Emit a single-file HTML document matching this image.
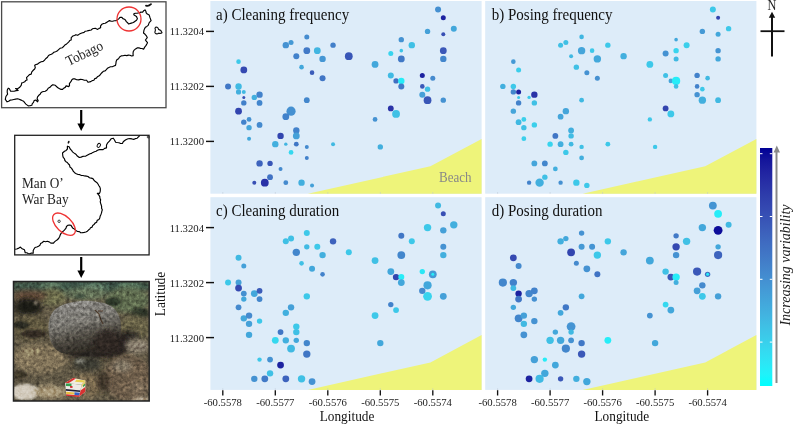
<!DOCTYPE html><html><head><meta charset="utf-8"><style>html,body{margin:0;padding:0;background:#fff;overflow:hidden}svg{display:block;will-change:transform}text{font-family:"Liberation Serif",serif}</style></head><body>
<svg width="793" height="425" viewBox="0 0 793 425">
<defs><linearGradient id="cb" x1="0" y1="0" x2="0" y2="1"><stop offset="0.00" stop-color="#000096"/><stop offset="0.05" stop-color="#14159b"/><stop offset="0.10" stop-color="#2023a1"/><stop offset="0.15" stop-color="#2830a6"/><stop offset="0.20" stop-color="#2e3dab"/><stop offset="0.25" stop-color="#3448b1"/><stop offset="0.30" stop-color="#3854b6"/><stop offset="0.35" stop-color="#3c60bb"/><stop offset="0.40" stop-color="#3f6cc1"/><stop offset="0.45" stop-color="#4177c6"/><stop offset="0.50" stop-color="#4383cb"/><stop offset="0.55" stop-color="#448fd1"/><stop offset="0.60" stop-color="#449bd6"/><stop offset="0.65" stop-color="#43a7db"/><stop offset="0.70" stop-color="#42b3e0"/><stop offset="0.75" stop-color="#3fc0e5"/><stop offset="0.80" stop-color="#3bccea"/><stop offset="0.85" stop-color="#35d9f0"/><stop offset="0.90" stop-color="#2de5f5"/><stop offset="0.95" stop-color="#20f2fa"/><stop offset="1.00" stop-color="#00ffff"/></linearGradient>
<filter id="bl03" x="-5%" y="-5%" width="110%" height="110%"><feGaussianBlur stdDeviation="0.35"/></filter>
<filter id="bl05" x="-50%" y="-50%" width="200%" height="200%"><feGaussianBlur stdDeviation="0.6"/></filter>
<filter id="bl1" x="-50%" y="-50%" width="200%" height="200%"><feGaussianBlur stdDeviation="1.2"/></filter>
<filter id="bl2" x="-50%" y="-50%" width="200%" height="200%"><feGaussianBlur stdDeviation="2.5"/></filter>
<filter id="bl4" x="-50%" y="-50%" width="200%" height="200%"><feGaussianBlur stdDeviation="4"/></filter>
<clipPath id="photoclip"><rect x="13.5" y="281.5" width="135.7" height="119.5"/></clipPath>
<linearGradient id="boulder" x1="0" y1="0" x2="0.3" y2="1"><stop offset="0" stop-color="#8c8a86"/><stop offset="0.45" stop-color="#7a7872"/><stop offset="0.72" stop-color="#4e4a42"/><stop offset="1" stop-color="#2a2620"/></linearGradient>
<filter id="noise" x="0" y="0" width="100%" height="100%" color-interpolation-filters="sRGB"><feTurbulence type="fractalNoise" baseFrequency="0.3" numOctaves="3" seed="11" result="t"/><feColorMatrix in="t" type="matrix" values="0.75 0.75 0.75 0 -0.63  0.75 0.75 0.75 0 -0.63  0.75 0.75 0.75 0 -0.63  0 0 0 0 1"/><feGaussianBlur stdDeviation="0.35"/></filter>
</defs>
<rect x="210.4" y="1.0" width="271.20000000000005" height="192.7" fill="#ddecf9"/>
<polygon fill="#eef47a" points="307.8,193.7 430.4,166.3 481.6,138.9 481.6,193.7"/>
<line x1="222.8" y1="192.2" x2="222.8" y2="193.7" stroke="#b8c2d0" stroke-width="0.6"/>
<line x1="275.3" y1="192.2" x2="275.3" y2="193.7" stroke="#b8c2d0" stroke-width="0.6"/>
<line x1="327.8" y1="192.2" x2="327.8" y2="193.7" stroke="#b8c2d0" stroke-width="0.6"/>
<line x1="380.3" y1="192.2" x2="380.3" y2="193.7" stroke="#b8c2d0" stroke-width="0.6"/>
<line x1="432.8" y1="192.2" x2="432.8" y2="193.7" stroke="#b8c2d0" stroke-width="0.6"/>
<text transform="translate(216.00,20.10) scale(1,1.1)" font-size="15" fill="#111" text-anchor="start">a) Cleaning frequency</text>
<g filter="url(#bl03)">
<circle cx="306.80" cy="36.90" r="2.5" fill="#448ccf"/>
<circle cx="285.80" cy="45.15" r="3.2" fill="#4492d2"/>
<circle cx="291.05" cy="42.40" r="2.5" fill="#4499d5"/>
<circle cx="333.05" cy="45.15" r="2.7" fill="#427fc9"/>
<circle cx="296.30" cy="56.15" r="3.0" fill="#4382cb"/>
<circle cx="306.80" cy="50.65" r="3.4" fill="#427ac7"/>
<circle cx="317.30" cy="50.65" r="3.4" fill="#42b5e1"/>
<circle cx="322.55" cy="58.90" r="3.2" fill="#4496d4"/>
<circle cx="301.55" cy="67.15" r="2.3" fill="#43a7db"/>
<circle cx="312.05" cy="72.65" r="2.3" fill="#3a5bb9"/>
<circle cx="322.55" cy="78.15" r="3.0" fill="#4176c5"/>
<circle cx="238.55" cy="61.65" r="2.3" fill="#3dc9e9"/>
<circle cx="243.80" cy="69.90" r="3.4" fill="#3449b1"/>
<circle cx="228.05" cy="86.40" r="3.0" fill="#4177c6"/>
<circle cx="238.55" cy="86.40" r="3.2" fill="#41bae3"/>
<circle cx="238.55" cy="91.90" r="2.6" fill="#43afde"/>
<circle cx="243.80" cy="91.90" r="2.0" fill="#41b9e2"/>
<circle cx="438.05" cy="9.40" r="3.0" fill="#4490d1"/>
<circle cx="443.30" cy="17.65" r="2.5" fill="#1f23a1"/>
<circle cx="453.80" cy="28.65" r="3.0" fill="#43a7db"/>
<circle cx="427.55" cy="31.40" r="2.7" fill="#44a0d8"/>
<circle cx="443.30" cy="34.15" r="2.0" fill="#3750b4"/>
<circle cx="401.30" cy="39.65" r="2.7" fill="#4492d2"/>
<circle cx="411.80" cy="45.15" r="3.2" fill="#3fc0e5"/>
<circle cx="401.30" cy="50.65" r="1.8" fill="#3ec4e7"/>
<circle cx="390.80" cy="53.40" r="2.5" fill="#38d4ee"/>
<circle cx="401.30" cy="58.90" r="3.4" fill="#4178c6"/>
<circle cx="443.30" cy="50.65" r="3.4" fill="#3a58b8"/>
<circle cx="443.30" cy="58.90" r="3.2" fill="#4386cc"/>
<circle cx="348.80" cy="56.15" r="3.9" fill="#3956b7"/>
<circle cx="375.05" cy="64.40" r="3.4" fill="#43a7db"/>
<circle cx="390.80" cy="75.40" r="3.0" fill="#41bae3"/>
<circle cx="396.05" cy="80.90" r="2.7" fill="#4070c3"/>
<circle cx="401.30" cy="80.90" r="3.2" fill="#26edf8"/>
<circle cx="401.30" cy="86.40" r="3.0" fill="#427ac7"/>
<circle cx="422.30" cy="75.40" r="2.5" fill="#1f23a0"/>
<circle cx="432.80" cy="78.15" r="2.5" fill="#448ace"/>
<circle cx="422.30" cy="86.40" r="2.3" fill="#3a58b8"/>
<circle cx="427.55" cy="89.15" r="2.7" fill="#3fc0e5"/>
<circle cx="422.30" cy="94.65" r="3.0" fill="#44a0d8"/>
<circle cx="427.55" cy="100.15" r="3.9" fill="#3956b7"/>
<circle cx="443.30" cy="100.15" r="2.7" fill="#4492d2"/>
<circle cx="390.80" cy="108.40" r="2.9" fill="#2932a7"/>
<circle cx="396.05" cy="113.90" r="3.9" fill="#3fc0e5"/>
<circle cx="375.05" cy="119.40" r="2.4" fill="#4492d2"/>
<circle cx="380.30" cy="146.90" r="2.7" fill="#43afde"/>
<circle cx="259.55" cy="94.65" r="3.2" fill="#4382cb"/>
<circle cx="243.80" cy="97.40" r="1.5" fill="#3750b4"/>
<circle cx="254.30" cy="97.40" r="2.7" fill="#43afde"/>
<circle cx="243.80" cy="102.90" r="2.7" fill="#4381ca"/>
<circle cx="259.55" cy="102.90" r="2.9" fill="#4386cd"/>
<circle cx="306.80" cy="100.15" r="2.9" fill="#4386cc"/>
<circle cx="238.55" cy="111.15" r="3.4" fill="#3244af"/>
<circle cx="291.05" cy="111.15" r="4.6" fill="#4490d1"/>
<circle cx="285.80" cy="116.65" r="3.4" fill="#4382cb"/>
<circle cx="243.80" cy="122.15" r="2.7" fill="#4382cb"/>
<circle cx="249.05" cy="119.40" r="2.4" fill="#4492d2"/>
<circle cx="249.05" cy="127.65" r="2.7" fill="#44a5da"/>
<circle cx="259.55" cy="124.90" r="2.9" fill="#448ace"/>
<circle cx="249.05" cy="138.65" r="2.0" fill="#43a7db"/>
<circle cx="296.30" cy="130.40" r="3.2" fill="#4382cb"/>
<circle cx="296.30" cy="135.90" r="3.4" fill="#44a0d8"/>
<circle cx="280.55" cy="135.90" r="3.2" fill="#3245af"/>
<circle cx="275.30" cy="144.15" r="3.2" fill="#43afde"/>
<circle cx="285.80" cy="144.15" r="1.7" fill="#42b5e1"/>
<circle cx="296.30" cy="144.15" r="2.4" fill="#4177c6"/>
<circle cx="306.80" cy="146.90" r="2.0" fill="#448ace"/>
<circle cx="291.05" cy="152.40" r="2.4" fill="#36d8ef"/>
<circle cx="306.80" cy="157.90" r="2.0" fill="#4382cb"/>
<circle cx="333.05" cy="144.15" r="2.0" fill="#41b9e2"/>
<circle cx="259.55" cy="163.40" r="3.2" fill="#3d63bd"/>
<circle cx="270.05" cy="163.40" r="2.7" fill="#3956b7"/>
<circle cx="280.55" cy="168.90" r="2.0" fill="#448ace"/>
<circle cx="270.05" cy="177.15" r="2.9" fill="#4072c4"/>
<circle cx="264.80" cy="182.65" r="3.9" fill="#2932a7"/>
<circle cx="254.30" cy="182.65" r="2.0" fill="#3750b4"/>
<circle cx="285.80" cy="182.65" r="2.4" fill="#448ace"/>
<circle cx="301.55" cy="182.65" r="3.2" fill="#43afde"/>
<circle cx="312.05" cy="185.40" r="2.0" fill="#44a0d8"/>
</g>
<text transform="translate(471.50,181.70) scale(1,1.1)" font-size="13" fill="#888" text-anchor="end">Beach</text>
<rect x="485.2" y="1.0" width="271.20000000000005" height="192.7" fill="#ddecf9"/>
<polygon fill="#eef47a" points="582.6,193.7 705.2,166.3 756.4,138.9 756.4,193.7"/>
<line x1="497.6" y1="192.2" x2="497.6" y2="193.7" stroke="#b8c2d0" stroke-width="0.6"/>
<line x1="550.1" y1="192.2" x2="550.1" y2="193.7" stroke="#b8c2d0" stroke-width="0.6"/>
<line x1="602.6" y1="192.2" x2="602.6" y2="193.7" stroke="#b8c2d0" stroke-width="0.6"/>
<line x1="655.1" y1="192.2" x2="655.1" y2="193.7" stroke="#b8c2d0" stroke-width="0.6"/>
<line x1="707.6" y1="192.2" x2="707.6" y2="193.7" stroke="#b8c2d0" stroke-width="0.6"/>
<text transform="translate(491.80,20.10) scale(1,1.1)" font-size="15" fill="#111" text-anchor="start">b) Posing frequency</text>
<g filter="url(#bl03)">
<circle cx="581.60" cy="36.90" r="2.3" fill="#41b6e1"/>
<circle cx="560.60" cy="45.15" r="2.5" fill="#3fc0e5"/>
<circle cx="565.85" cy="42.40" r="2.5" fill="#3fc0e5"/>
<circle cx="607.85" cy="45.15" r="2.7" fill="#3dc8e9"/>
<circle cx="571.10" cy="56.15" r="2.0" fill="#41b9e2"/>
<circle cx="581.60" cy="50.65" r="3.7" fill="#44a5da"/>
<circle cx="592.10" cy="50.65" r="2.3" fill="#3dc8e9"/>
<circle cx="597.35" cy="58.90" r="3.7" fill="#43a8db"/>
<circle cx="576.35" cy="67.15" r="2.7" fill="#3fc0e5"/>
<circle cx="586.85" cy="72.65" r="2.5" fill="#4492d2"/>
<circle cx="597.35" cy="78.15" r="2.5" fill="#4490d1"/>
<circle cx="513.35" cy="61.65" r="2.3" fill="#4499d5"/>
<circle cx="518.60" cy="69.90" r="2.5" fill="#3bceeb"/>
<circle cx="502.85" cy="86.40" r="2.7" fill="#43afde"/>
<circle cx="513.35" cy="86.40" r="2.7" fill="#3dc8e9"/>
<circle cx="513.35" cy="91.90" r="2.7" fill="#4386cc"/>
<circle cx="518.60" cy="91.90" r="2.5" fill="#1f23a0"/>
<circle cx="712.85" cy="9.40" r="3.0" fill="#3dc8e9"/>
<circle cx="718.10" cy="17.65" r="2.0" fill="#3244af"/>
<circle cx="728.60" cy="28.65" r="2.7" fill="#3dc8e9"/>
<circle cx="702.35" cy="31.40" r="2.7" fill="#4499d5"/>
<circle cx="718.10" cy="34.15" r="2.5" fill="#43a7db"/>
<circle cx="676.10" cy="39.65" r="1.8" fill="#43a7db"/>
<circle cx="686.60" cy="45.15" r="3.0" fill="#3acfeb"/>
<circle cx="676.10" cy="50.65" r="2.7" fill="#38d4ee"/>
<circle cx="665.60" cy="53.40" r="3.0" fill="#4492d2"/>
<circle cx="676.10" cy="58.90" r="2.5" fill="#41b9e2"/>
<circle cx="718.10" cy="50.65" r="2.7" fill="#4494d3"/>
<circle cx="718.10" cy="58.90" r="2.7" fill="#43a7db"/>
<circle cx="623.60" cy="56.15" r="3.2" fill="#43afde"/>
<circle cx="649.85" cy="64.40" r="3.4" fill="#3dc8e9"/>
<circle cx="665.60" cy="75.40" r="2.5" fill="#3fc0e5"/>
<circle cx="670.85" cy="80.90" r="2.3" fill="#44a5da"/>
<circle cx="676.10" cy="80.90" r="4.1" fill="#26edf8"/>
<circle cx="676.10" cy="86.40" r="2.3" fill="#3fc0e5"/>
<circle cx="697.10" cy="75.40" r="2.7" fill="#4382cb"/>
<circle cx="707.60" cy="78.15" r="2.3" fill="#41b9e2"/>
<circle cx="697.10" cy="86.40" r="2.3" fill="#4382cb"/>
<circle cx="702.35" cy="89.15" r="2.3" fill="#3dc8e9"/>
<circle cx="697.10" cy="94.65" r="2.7" fill="#4492d2"/>
<circle cx="702.35" cy="100.15" r="3.7" fill="#43afde"/>
<circle cx="718.10" cy="100.15" r="2.9" fill="#41b9e2"/>
<circle cx="665.60" cy="108.40" r="2.9" fill="#3244af"/>
<circle cx="670.85" cy="113.90" r="3.4" fill="#3dc8e9"/>
<circle cx="649.85" cy="119.40" r="2.2" fill="#3dc8e9"/>
<circle cx="655.10" cy="146.90" r="2.2" fill="#3dc8e9"/>
<circle cx="534.35" cy="94.65" r="3.2" fill="#2932a7"/>
<circle cx="518.60" cy="97.40" r="1.5" fill="#3dc8e9"/>
<circle cx="529.10" cy="97.40" r="1.7" fill="#3dc8e9"/>
<circle cx="518.60" cy="102.90" r="2.7" fill="#4382cb"/>
<circle cx="534.35" cy="102.90" r="2.7" fill="#3fc0e5"/>
<circle cx="581.60" cy="100.15" r="2.4" fill="#41b9e2"/>
<circle cx="513.35" cy="111.15" r="2.7" fill="#44a5da"/>
<circle cx="565.85" cy="111.15" r="3.2" fill="#44a5da"/>
<circle cx="560.60" cy="116.65" r="2.9" fill="#44a5da"/>
<circle cx="518.60" cy="122.15" r="2.9" fill="#41b9e2"/>
<circle cx="523.85" cy="119.40" r="2.4" fill="#3acfeb"/>
<circle cx="523.85" cy="127.65" r="2.7" fill="#3fc0e5"/>
<circle cx="534.35" cy="124.90" r="2.7" fill="#3acfeb"/>
<circle cx="523.85" cy="138.65" r="2.4" fill="#3acfeb"/>
<circle cx="571.10" cy="130.40" r="2.9" fill="#43afde"/>
<circle cx="571.10" cy="135.90" r="2.7" fill="#40bce4"/>
<circle cx="555.35" cy="135.90" r="2.9" fill="#4176c5"/>
<circle cx="550.10" cy="144.15" r="2.7" fill="#38d4ee"/>
<circle cx="560.60" cy="144.15" r="2.9" fill="#43afde"/>
<circle cx="571.10" cy="144.15" r="2.4" fill="#41b9e2"/>
<circle cx="581.60" cy="146.90" r="2.2" fill="#3fc0e5"/>
<circle cx="565.85" cy="152.40" r="2.7" fill="#3dc8e9"/>
<circle cx="581.60" cy="157.90" r="2.4" fill="#43afde"/>
<circle cx="607.85" cy="144.15" r="2.4" fill="#3dc8e9"/>
<circle cx="534.35" cy="163.40" r="2.9" fill="#44a5da"/>
<circle cx="544.85" cy="163.40" r="2.9" fill="#4386cc"/>
<circle cx="555.35" cy="168.90" r="2.4" fill="#43afde"/>
<circle cx="544.85" cy="177.15" r="2.7" fill="#3fc0e5"/>
<circle cx="539.60" cy="182.65" r="4.2" fill="#43afde"/>
<circle cx="529.10" cy="182.65" r="2.2" fill="#4382cb"/>
<circle cx="560.60" cy="182.65" r="2.2" fill="#4490d1"/>
<circle cx="576.35" cy="182.65" r="3.2" fill="#3dc8e9"/>
<circle cx="586.85" cy="185.40" r="2.7" fill="#3dc8e9"/>
</g>
<rect x="210.4" y="197.2" width="271.20000000000005" height="192.7" fill="#ddecf9"/>
<polygon fill="#eef47a" points="307.8,389.9 430.4,362.5 481.6,335.1 481.6,389.9"/>
<line x1="222.8" y1="388.4" x2="222.8" y2="389.9" stroke="#b8c2d0" stroke-width="0.6"/>
<line x1="275.3" y1="388.4" x2="275.3" y2="389.9" stroke="#b8c2d0" stroke-width="0.6"/>
<line x1="327.8" y1="388.4" x2="327.8" y2="389.9" stroke="#b8c2d0" stroke-width="0.6"/>
<line x1="380.3" y1="388.4" x2="380.3" y2="389.9" stroke="#b8c2d0" stroke-width="0.6"/>
<line x1="432.8" y1="388.4" x2="432.8" y2="389.9" stroke="#b8c2d0" stroke-width="0.6"/>
<text transform="translate(216.00,216.30) scale(1,1.1)" font-size="15" fill="#111" text-anchor="start">c) Cleaning duration</text>
<g filter="url(#bl03)">
<circle cx="306.80" cy="233.10" r="3.0" fill="#3dc8e9"/>
<circle cx="285.80" cy="241.35" r="3.0" fill="#3fc0e5"/>
<circle cx="291.05" cy="238.60" r="3.0" fill="#3fc0e5"/>
<circle cx="333.05" cy="241.35" r="3.2" fill="#3d62bd"/>
<circle cx="296.30" cy="252.35" r="3.7" fill="#4386cc"/>
<circle cx="306.80" cy="246.85" r="2.7" fill="#41bae3"/>
<circle cx="317.30" cy="246.85" r="3.0" fill="#3dc8e9"/>
<circle cx="322.55" cy="255.10" r="3.2" fill="#43afde"/>
<circle cx="301.55" cy="263.35" r="2.3" fill="#3fc0e5"/>
<circle cx="312.05" cy="268.85" r="3.0" fill="#43a7db"/>
<circle cx="322.55" cy="274.35" r="2.3" fill="#4382cb"/>
<circle cx="238.55" cy="257.85" r="3.0" fill="#41b9e2"/>
<circle cx="243.80" cy="266.10" r="2.5" fill="#44a0d8"/>
<circle cx="228.05" cy="282.60" r="3.0" fill="#3dc8e9"/>
<circle cx="238.55" cy="282.60" r="3.0" fill="#44a0d8"/>
<circle cx="238.55" cy="288.10" r="3.4" fill="#3449b1"/>
<circle cx="438.05" cy="205.60" r="3.0" fill="#41b9e2"/>
<circle cx="443.30" cy="213.85" r="2.5" fill="#3750b4"/>
<circle cx="453.80" cy="224.85" r="3.7" fill="#43afde"/>
<circle cx="427.55" cy="227.60" r="3.7" fill="#3dc8e9"/>
<circle cx="443.30" cy="230.35" r="3.2" fill="#44a0d8"/>
<circle cx="401.30" cy="235.85" r="3.0" fill="#4176c5"/>
<circle cx="411.80" cy="241.35" r="3.0" fill="#3dc8e9"/>
<circle cx="348.80" cy="252.35" r="3.0" fill="#3dc8e9"/>
<circle cx="401.30" cy="255.10" r="3.9" fill="#4386cc"/>
<circle cx="443.30" cy="246.85" r="3.0" fill="#4492d2"/>
<circle cx="443.30" cy="255.10" r="3.2" fill="#43afde"/>
<circle cx="375.05" cy="260.60" r="3.4" fill="#3fc0e5"/>
<circle cx="390.80" cy="271.60" r="3.4" fill="#43a7db"/>
<circle cx="396.05" cy="277.10" r="3.2" fill="#3245af"/>
<circle cx="401.30" cy="277.10" r="3.0" fill="#26edf8"/>
<circle cx="401.30" cy="282.60" r="3.4" fill="#43a7db"/>
<circle cx="422.30" cy="271.60" r="2.7" fill="#2ce7f5"/>
<circle cx="432.80" cy="274.35" r="3.9" fill="#4499d5"/>
<circle cx="432.80" cy="274.35" r="1.5" fill="#27ecf7"/>
<circle cx="427.55" cy="285.35" r="4.1" fill="#43a7db"/>
<circle cx="422.30" cy="290.85" r="3.2" fill="#448ace"/>
<circle cx="427.55" cy="296.35" r="4.4" fill="#38d4ee"/>
<circle cx="443.30" cy="296.35" r="3.4" fill="#44a0d8"/>
<circle cx="390.80" cy="304.60" r="2.7" fill="#4382cb"/>
<circle cx="396.05" cy="310.10" r="2.9" fill="#3dc8e9"/>
<circle cx="375.05" cy="315.60" r="3.4" fill="#3dc8e9"/>
<circle cx="380.30" cy="343.10" r="3.2" fill="#43a7db"/>
<circle cx="243.80" cy="293.60" r="2.9" fill="#4490d1"/>
<circle cx="243.80" cy="299.10" r="2.7" fill="#43a7db"/>
<circle cx="254.30" cy="293.60" r="3.4" fill="#43a7db"/>
<circle cx="259.55" cy="290.85" r="2.9" fill="#3a5bb9"/>
<circle cx="259.55" cy="299.10" r="2.9" fill="#4386cc"/>
<circle cx="306.80" cy="296.35" r="3.2" fill="#3dc8e9"/>
<circle cx="238.55" cy="307.35" r="2.9" fill="#448ace"/>
<circle cx="291.05" cy="307.35" r="3.2" fill="#44a0d8"/>
<circle cx="285.80" cy="312.85" r="3.2" fill="#43afde"/>
<circle cx="243.80" cy="318.35" r="3.2" fill="#43a7db"/>
<circle cx="249.05" cy="315.60" r="3.2" fill="#448ace"/>
<circle cx="249.05" cy="323.85" r="3.2" fill="#44a0d8"/>
<circle cx="259.55" cy="321.10" r="2.7" fill="#3dc8e9"/>
<circle cx="249.05" cy="334.85" r="3.2" fill="#43a7db"/>
<circle cx="296.30" cy="326.60" r="3.2" fill="#3dc8e9"/>
<circle cx="296.30" cy="332.10" r="3.2" fill="#3fc0e5"/>
<circle cx="280.55" cy="332.10" r="2.9" fill="#4176c5"/>
<circle cx="275.30" cy="340.35" r="3.4" fill="#36d8ef"/>
<circle cx="285.80" cy="340.35" r="3.2" fill="#43afde"/>
<circle cx="296.30" cy="340.35" r="2.7" fill="#43a7db"/>
<circle cx="306.80" cy="343.10" r="3.2" fill="#4386cc"/>
<circle cx="291.05" cy="348.60" r="3.9" fill="#41b9e2"/>
<circle cx="306.80" cy="354.10" r="3.7" fill="#4176c5"/>
<circle cx="259.55" cy="359.60" r="2.2" fill="#3dc8e9"/>
<circle cx="270.05" cy="359.60" r="2.9" fill="#4492d2"/>
<circle cx="280.55" cy="365.10" r="3.4" fill="#1f23a0"/>
<circle cx="270.05" cy="373.35" r="3.2" fill="#3fc0e5"/>
<circle cx="264.80" cy="378.85" r="3.4" fill="#427ac7"/>
<circle cx="254.30" cy="378.85" r="3.2" fill="#4492d2"/>
<circle cx="285.80" cy="378.85" r="3.4" fill="#3d63bd"/>
<circle cx="301.55" cy="378.85" r="3.7" fill="#3fc0e5"/>
<circle cx="312.05" cy="381.60" r="3.4" fill="#4492d2"/>
</g>
<rect x="485.2" y="197.2" width="271.20000000000005" height="192.7" fill="#ddecf9"/>
<polygon fill="#eef47a" points="582.6,389.9 705.2,362.5 756.4,335.1 756.4,389.9"/>
<line x1="497.6" y1="388.4" x2="497.6" y2="389.9" stroke="#b8c2d0" stroke-width="0.6"/>
<line x1="550.1" y1="388.4" x2="550.1" y2="389.9" stroke="#b8c2d0" stroke-width="0.6"/>
<line x1="602.6" y1="388.4" x2="602.6" y2="389.9" stroke="#b8c2d0" stroke-width="0.6"/>
<line x1="655.1" y1="388.4" x2="655.1" y2="389.9" stroke="#b8c2d0" stroke-width="0.6"/>
<line x1="707.6" y1="388.4" x2="707.6" y2="389.9" stroke="#b8c2d0" stroke-width="0.6"/>
<text transform="translate(491.80,216.30) scale(1,1.1)" font-size="15" fill="#111" text-anchor="start">d) Posing duration</text>
<g filter="url(#bl03)">
<circle cx="581.60" cy="233.10" r="2.7" fill="#4492d2"/>
<circle cx="560.60" cy="241.35" r="3.2" fill="#43afde"/>
<circle cx="565.85" cy="238.60" r="2.7" fill="#43a7db"/>
<circle cx="607.85" cy="241.35" r="3.2" fill="#3dc8e9"/>
<circle cx="571.10" cy="252.35" r="3.9" fill="#3245af"/>
<circle cx="581.60" cy="246.85" r="3.0" fill="#4499d5"/>
<circle cx="592.10" cy="246.85" r="3.0" fill="#4494d3"/>
<circle cx="597.35" cy="255.10" r="3.7" fill="#3dc8e9"/>
<circle cx="576.35" cy="263.35" r="2.5" fill="#448ace"/>
<circle cx="586.85" cy="268.85" r="3.4" fill="#4492d2"/>
<circle cx="597.35" cy="274.35" r="3.0" fill="#4173c4"/>
<circle cx="513.35" cy="257.85" r="3.4" fill="#3449b1"/>
<circle cx="518.60" cy="266.10" r="3.0" fill="#448ace"/>
<circle cx="502.85" cy="282.60" r="4.1" fill="#4386cc"/>
<circle cx="513.35" cy="282.60" r="3.7" fill="#4382cb"/>
<circle cx="513.35" cy="288.10" r="2.9" fill="#41bae3"/>
<circle cx="712.85" cy="205.60" r="3.9" fill="#4494d3"/>
<circle cx="718.10" cy="213.85" r="3.9" fill="#26edf8"/>
<circle cx="728.60" cy="224.85" r="3.0" fill="#41b9e2"/>
<circle cx="702.35" cy="227.60" r="3.7" fill="#43a7db"/>
<circle cx="718.10" cy="230.35" r="4.4" fill="#11119a"/>
<circle cx="676.10" cy="235.85" r="2.7" fill="#427ac7"/>
<circle cx="686.60" cy="241.35" r="3.7" fill="#3fc0e5"/>
<circle cx="676.10" cy="246.85" r="3.7" fill="#3449b1"/>
<circle cx="676.10" cy="255.10" r="3.2" fill="#4492d2"/>
<circle cx="718.10" cy="246.85" r="2.7" fill="#43a7db"/>
<circle cx="718.10" cy="255.10" r="4.1" fill="#3d63bd"/>
<circle cx="623.60" cy="252.35" r="3.2" fill="#44a5da"/>
<circle cx="649.85" cy="260.60" r="3.9" fill="#43a7db"/>
<circle cx="665.60" cy="271.60" r="3.2" fill="#3fc0e5"/>
<circle cx="670.85" cy="277.10" r="3.4" fill="#3956b7"/>
<circle cx="676.10" cy="277.10" r="3.7" fill="#26edf8"/>
<circle cx="676.10" cy="282.60" r="2.5" fill="#43afde"/>
<circle cx="697.10" cy="271.60" r="4.1" fill="#3a58b8"/>
<circle cx="707.60" cy="274.35" r="2.7" fill="#4070c3"/>
<circle cx="707.60" cy="274.35" r="1.5" fill="#27ecf7"/>
<circle cx="702.35" cy="285.35" r="3.2" fill="#448ace"/>
<circle cx="697.10" cy="290.85" r="3.4" fill="#44a0d8"/>
<circle cx="702.35" cy="296.35" r="3.4" fill="#3dc8e9"/>
<circle cx="718.10" cy="296.35" r="3.2" fill="#44a0d8"/>
<circle cx="665.60" cy="304.60" r="2.9" fill="#36d8ef"/>
<circle cx="670.85" cy="310.10" r="3.4" fill="#43a7db"/>
<circle cx="649.85" cy="315.60" r="2.9" fill="#4492d2"/>
<circle cx="655.10" cy="343.10" r="3.2" fill="#43a7db"/>
<circle cx="518.60" cy="293.60" r="3.2" fill="#1f23a0"/>
<circle cx="518.60" cy="299.10" r="3.4" fill="#4176c5"/>
<circle cx="529.10" cy="293.60" r="3.7" fill="#4386cc"/>
<circle cx="534.35" cy="290.85" r="3.4" fill="#4382cb"/>
<circle cx="534.35" cy="299.10" r="2.7" fill="#4490d1"/>
<circle cx="581.60" cy="296.35" r="2.9" fill="#43a7db"/>
<circle cx="513.35" cy="307.35" r="2.7" fill="#43a7db"/>
<circle cx="565.85" cy="307.35" r="3.2" fill="#4178c6"/>
<circle cx="560.60" cy="312.85" r="2.9" fill="#43a7db"/>
<circle cx="518.60" cy="318.35" r="3.9" fill="#4386cc"/>
<circle cx="523.85" cy="315.60" r="3.2" fill="#44a0d8"/>
<circle cx="523.85" cy="323.85" r="3.2" fill="#41b9e2"/>
<circle cx="534.35" cy="321.10" r="3.2" fill="#4492d2"/>
<circle cx="523.85" cy="334.85" r="3.4" fill="#4492d2"/>
<circle cx="571.10" cy="326.60" r="4.4" fill="#4494d3"/>
<circle cx="571.10" cy="332.10" r="2.7" fill="#41b9e2"/>
<circle cx="555.35" cy="332.10" r="2.7" fill="#43a7db"/>
<circle cx="550.10" cy="340.35" r="3.7" fill="#3fc0e5"/>
<circle cx="560.60" cy="340.35" r="3.7" fill="#43a7db"/>
<circle cx="571.10" cy="340.35" r="2.9" fill="#4492d2"/>
<circle cx="581.60" cy="343.10" r="3.2" fill="#4178c6"/>
<circle cx="565.85" cy="348.60" r="4.1" fill="#4386cc"/>
<circle cx="581.60" cy="354.10" r="3.7" fill="#3a58b8"/>
<circle cx="607.85" cy="340.35" r="3.4" fill="#26edf8"/>
<circle cx="534.35" cy="359.60" r="3.7" fill="#44a0d8"/>
<circle cx="544.85" cy="359.60" r="2.2" fill="#27ecf7"/>
<circle cx="555.35" cy="365.10" r="3.4" fill="#43a7db"/>
<circle cx="544.85" cy="373.35" r="3.7" fill="#43a7db"/>
<circle cx="539.60" cy="378.85" r="4.1" fill="#41bae3"/>
<circle cx="529.10" cy="378.85" r="3.4" fill="#1f23a0"/>
<circle cx="560.60" cy="378.85" r="2.7" fill="#3a58b8"/>
<circle cx="576.35" cy="378.85" r="3.2" fill="#43afde"/>
<circle cx="586.85" cy="381.60" r="3.7" fill="#43a7db"/>
</g>
<line x1="206" y1="31.4" x2="214" y2="31.4" stroke="#111" stroke-width="1.45"/>
<text transform="translate(204.00,35.40) scale(1,1.0)" font-size="10.7" fill="#222" text-anchor="end">11.3204</text>
<line x1="206" y1="86.4" x2="214" y2="86.4" stroke="#111" stroke-width="1.45"/>
<text transform="translate(204.00,90.40) scale(1,1.0)" font-size="10.7" fill="#222" text-anchor="end">11.3202</text>
<line x1="206" y1="141.4" x2="214" y2="141.4" stroke="#111" stroke-width="1.45"/>
<text transform="translate(204.00,145.40) scale(1,1.0)" font-size="10.7" fill="#222" text-anchor="end">11.3200</text>
<line x1="206" y1="227.6" x2="214" y2="227.6" stroke="#111" stroke-width="1.45"/>
<text transform="translate(204.00,231.60) scale(1,1.0)" font-size="10.7" fill="#222" text-anchor="end">11.3204</text>
<line x1="206" y1="282.6" x2="214" y2="282.6" stroke="#111" stroke-width="1.45"/>
<text transform="translate(204.00,286.60) scale(1,1.0)" font-size="10.7" fill="#222" text-anchor="end">11.3202</text>
<line x1="206" y1="337.6" x2="214" y2="337.6" stroke="#111" stroke-width="1.45"/>
<text transform="translate(204.00,341.60) scale(1,1.0)" font-size="10.7" fill="#222" text-anchor="end">11.3200</text>
<line x1="222.8" y1="390.2" x2="222.8" y2="395.5" stroke="#111" stroke-width="1.35"/>
<text transform="translate(222.80,405.60) scale(1,1.0)" font-size="10.7" fill="#222" text-anchor="middle">-60.5578</text>
<line x1="275.3" y1="390.2" x2="275.3" y2="395.5" stroke="#111" stroke-width="1.35"/>
<text transform="translate(275.30,405.60) scale(1,1.0)" font-size="10.7" fill="#222" text-anchor="middle">-60.5577</text>
<line x1="327.8" y1="390.2" x2="327.8" y2="395.5" stroke="#111" stroke-width="1.35"/>
<text transform="translate(327.80,405.60) scale(1,1.0)" font-size="10.7" fill="#222" text-anchor="middle">-60.5576</text>
<line x1="380.3" y1="390.2" x2="380.3" y2="395.5" stroke="#111" stroke-width="1.35"/>
<text transform="translate(380.30,405.60) scale(1,1.0)" font-size="10.7" fill="#222" text-anchor="middle">-60.5575</text>
<line x1="432.8" y1="390.2" x2="432.8" y2="395.5" stroke="#111" stroke-width="1.35"/>
<text transform="translate(432.80,405.60) scale(1,1.0)" font-size="10.7" fill="#222" text-anchor="middle">-60.5574</text>
<text transform="translate(347.00,420.80) scale(1,1.1)" font-size="13.3" fill="#111" text-anchor="middle">Longitude</text>
<line x1="497.6" y1="390.2" x2="497.6" y2="395.5" stroke="#111" stroke-width="1.35"/>
<text transform="translate(497.60,405.60) scale(1,1.0)" font-size="10.7" fill="#222" text-anchor="middle">-60.5578</text>
<line x1="550.1" y1="390.2" x2="550.1" y2="395.5" stroke="#111" stroke-width="1.35"/>
<text transform="translate(550.10,405.60) scale(1,1.0)" font-size="10.7" fill="#222" text-anchor="middle">-60.5577</text>
<line x1="602.6" y1="390.2" x2="602.6" y2="395.5" stroke="#111" stroke-width="1.35"/>
<text transform="translate(602.60,405.60) scale(1,1.0)" font-size="10.7" fill="#222" text-anchor="middle">-60.5576</text>
<line x1="655.1" y1="390.2" x2="655.1" y2="395.5" stroke="#111" stroke-width="1.35"/>
<text transform="translate(655.10,405.60) scale(1,1.0)" font-size="10.7" fill="#222" text-anchor="middle">-60.5575</text>
<line x1="707.6" y1="390.2" x2="707.6" y2="395.5" stroke="#111" stroke-width="1.35"/>
<text transform="translate(707.60,405.60) scale(1,1.0)" font-size="10.7" fill="#222" text-anchor="middle">-60.5574</text>
<text transform="translate(621.80,420.80) scale(1,1.1)" font-size="13.3" fill="#111" text-anchor="middle">Longitude</text>
<text transform="translate(165.20,294.00) rotate(-90) scale(1,1.1)" font-size="13.3" fill="#111" text-anchor="middle">Latitude</text>
<text transform="translate(772.00,9.90) scale(1,1.1)" font-size="12.3" fill="#222" text-anchor="middle">N</text>
<line x1="772" y1="17" x2="772" y2="56.5" stroke="#111" stroke-width="2"/>
<polygon points="772,11.8 768.8,17.8 775.2,17.8" fill="#111"/>
<line x1="760.5" y1="31.2" x2="784.5" y2="31.2" stroke="#111" stroke-width="1.8"/>
<rect x="760" y="148" width="12.3" height="238" fill="url(#cb)"/>
<line x1="760" y1="153.7" x2="762.5" y2="153.7" stroke="#fff" stroke-width="1"/>
<line x1="769.8" y1="153.7" x2="772.3" y2="153.7" stroke="#fff" stroke-width="1"/>
<line x1="760" y1="216.5" x2="762.5" y2="216.5" stroke="#fff" stroke-width="1"/>
<line x1="769.8" y1="216.5" x2="772.3" y2="216.5" stroke="#fff" stroke-width="1"/>
<line x1="760" y1="279.3" x2="762.5" y2="279.3" stroke="#fff" stroke-width="1"/>
<line x1="769.8" y1="279.3" x2="772.3" y2="279.3" stroke="#fff" stroke-width="1"/>
<line x1="760" y1="342.1" x2="762.5" y2="342.1" stroke="#fff" stroke-width="1"/>
<line x1="769.8" y1="342.1" x2="772.3" y2="342.1" stroke="#fff" stroke-width="1"/>
<line x1="776.5" y1="152" x2="776.5" y2="383" stroke="#888" stroke-width="2"/>
<polygon points="776.8,145.6 773.6,152.4 780,152.4" fill="#888"/>
<text transform="translate(789.50,265.00) rotate(-90) scale(1,1.1)" font-size="14" fill="#222" text-anchor="middle" font-style="italic">Increasing variability</text>
<rect x="1.6" y="1.8" width="164.4" height="105.9" fill="#fff" stroke="#4a4a4a" stroke-width="1.3"/>
<polygon fill="none" stroke="#000" stroke-width="1.15" stroke-linejoin="round" points="5.30,99.40 5.90,96.50 7.60,94.10 7.19,92.07 7.30,90.00 8.20,88.20 9.40,88.80 10.60,91.20 12.35,91.24 14.10,91.20 16.13,90.67 18.20,90.40 16.96,89.41 15.60,88.60 17.60,88.80 19.40,87.60 21.20,85.30 21.80,82.90 23.29,82.47 24.70,81.80 25.64,80.55 27.10,80.00 26.50,77.60 28.20,75.90 29.45,74.58 31.20,74.10 31.80,71.80 33.50,70.00 34.67,69.00 35.30,67.60 34.70,65.30 36.06,64.48 37.60,64.10 39.26,62.73 41.20,61.80 43.18,61.34 44.70,60.00 45.94,58.48 47.49,57.22 48.50,55.50 49.89,54.78 51.36,54.22 52.70,53.40 53.91,52.23 55.57,51.76 57.10,51.09 58.30,49.90 60.00,48.30 62.40,47.70 63.87,46.22 65.30,44.70 66.62,43.92 67.74,42.90 68.80,41.80 69.74,40.55 71.20,40.00 71.20,37.70 73.00,35.90 74.55,35.54 75.90,34.70 77.70,35.30 79.40,34.10 81.80,33.00 84.10,32.40 85.30,31.20 86.82,30.99 88.30,30.60 91.20,30.00 92.40,28.80 95.30,28.30 97.70,29.40 99.05,28.38 100.60,27.70 100.60,25.90 101.81,24.33 103.60,23.50 105.18,23.29 106.50,22.40 107.99,21.48 109.50,20.60 111.20,21.20 112.73,21.22 114.20,20.80 115.75,20.77 117.10,20.00 118.69,18.86 120.00,17.40 121.90,17.40 122.88,18.67 124.43,19.18 125.60,20.20 126.33,21.65 127.58,22.70 128.50,24.00 131.30,23.10 133.39,22.54 135.10,21.20 136.52,20.26 137.40,18.80 136.50,16.50 134.10,15.10 133.70,14.10 135.24,13.26 137.00,13.20 139.30,12.70 140.90,12.09 142.60,12.20 143.60,10.85 145.00,9.90 145.90,11.30 146.18,12.91 147.30,14.10 149.20,15.10 150.10,17.90 151.10,20.70 149.20,22.60 148.20,25.40 146.84,26.40 145.40,27.30 144.59,28.64 144.00,30.10 143.50,33.00 145.09,34.26 146.40,35.80 147.30,37.70 145.40,40.00 146.44,41.35 147.50,42.70 146.82,44.06 146.07,45.38 145.09,46.56 144.31,47.86 143.60,49.20 142.05,48.48 140.39,48.37 138.81,47.80 137.10,47.90 135.55,48.91 134.16,50.08 133.20,51.70 133.03,53.65 133.20,55.60 131.60,55.94 130.00,55.24 128.40,55.14 126.80,55.60 124.91,55.30 123.06,55.73 121.20,55.90 119.62,57.04 118.53,58.71 116.90,59.80 116.11,61.59 115.90,63.52 115.50,65.40 113.89,66.07 112.28,66.75 110.50,66.80 108.90,67.44 107.43,68.26 106.30,69.60 105.13,70.91 103.33,71.29 102.10,72.50 101.02,73.68 100.06,74.99 98.82,76.01 97.35,76.79 96.40,78.10 94.80,78.66 93.84,80.24 92.14,80.63 90.80,81.60 88.00,82.30 86.60,80.20 84.38,80.30 82.30,79.50 80.42,79.38 78.58,79.87 76.70,79.80 75.05,78.93 73.20,78.80 71.86,79.66 71.26,81.13 70.30,82.30 69.36,83.58 69.55,85.23 68.90,86.60 66.10,85.90 65.23,87.37 63.70,88.16 62.60,89.40 61.02,89.38 59.64,88.75 58.30,88.00 56.74,86.72 55.30,85.30 52.90,84.70 51.27,85.78 49.97,87.31 48.20,88.20 47.08,90.02 45.30,91.20 42.40,91.80 40.94,92.70 40.13,94.27 38.80,95.30 37.54,96.85 37.10,98.80 38.20,100.60 37.60,101.80 35.90,100.00 34.10,100.60 33.50,102.40 32.31,103.65 31.80,105.30 30.02,105.72 28.20,105.90 25.90,104.10 24.67,102.68 23.50,101.20 22.03,100.58 20.60,99.87 19.11,99.31 17.60,98.80 15.65,99.14 13.71,99.48 11.80,100.00 10.08,100.19 8.66,101.19 7.10,101.80"/>
<path d="M146,5.6 Q148.5,6.6 151,4.2" stroke="#111" stroke-width="1.8" fill="none" stroke-linecap="round"/>
<path d="M155.6,27.3 C157.4,26.6 158.2,28.2 158.6,29.4 C160.2,29.8 161.6,31.2 162,32.6 C161.2,33.8 159.6,33.4 158.6,33.2 C157.4,34.3 155.6,34 155,32.8 C154.5,31.6 155.7,30.6 155.4,29.8 C154.9,29 154.9,27.9 155.6,27.3 Z" fill="none" stroke="#111" stroke-width="1.15"/>
<circle cx="129" cy="19" r="12" fill="none" stroke="#e33" stroke-width="1.3"/>
<text transform="translate(86.40,57.60) rotate(-26) scale(1,1.1)" font-size="13.2" fill="#222" text-anchor="middle">Tobago</text>
<line x1="81.2" y1="110" x2="81.2" y2="125" stroke="#000" stroke-width="2.2"/>
<polygon points="77.4,123.5 85,123.5 81.2,131" fill="#000"/>
<line x1="81.2" y1="257" x2="81.2" y2="272" stroke="#000" stroke-width="2.2"/>
<polygon points="77.4,270.5 85,270.5 81.2,278" fill="#000"/>
<rect x="14.7" y="135.3" width="134.4" height="119.6" fill="#fff" stroke="#222" stroke-width="1.3"/>
<polyline fill="none" stroke="#000" stroke-width="1.15" stroke-linejoin="round" points="139.80,135.60 138.42,136.82 137.20,138.20 135.43,138.59 133.80,139.40 131.93,138.94 130.04,138.60 128.10,138.80 126.30,139.46 124.70,140.50 123.25,141.71 122.40,143.40 120.63,143.52 119.00,142.80 117.29,142.53 115.60,142.20 114.50,140.00 113.30,138.20 111.10,138.80 109.40,141.10 107.70,142.80 106.50,145.00 106.50,147.90 104.62,148.39 103.10,149.60 101.22,149.67 99.33,149.64 97.50,150.20 96.12,151.25 94.45,151.69 92.90,152.40 91.58,153.33 90.03,153.81 88.59,154.52 87.20,155.30 85.80,156.09 84.26,156.28 82.70,156.40 81.06,157.14 79.30,157.50 77.00,155.80 76.16,154.44 74.80,153.60 72.50,151.90 71.54,150.30 70.20,149.00 69.10,146.80 67.40,146.20 67.40,149.00 66.14,150.39 64.50,151.30 62.50,153.00 62.80,155.80 63.26,157.48 64.50,158.80 64.90,160.50 65.93,161.67 67.34,162.46 68.20,163.80 69.57,165.03 69.92,166.95 71.42,168.09 72.41,169.58 73.20,171.20 74.59,172.66 76.28,173.68 78.10,174.50 79.78,174.63 81.30,175.55 83.01,175.49 84.63,175.94 86.30,176.10 88.04,176.48 89.46,177.72 91.19,178.14 92.90,178.60 93.97,180.26 95.38,181.58 97.00,182.70 97.98,184.03 98.76,185.49 99.74,186.82 100.30,188.40 100.35,190.12 100.15,191.80 99.50,193.40 97.30,193.30 98.69,194.84 99.80,196.60 99.91,198.26 100.64,199.85 100.24,201.57 100.60,203.20 101.17,204.81 101.62,206.46 101.60,208.22 102.30,209.80 101.82,211.45 101.46,213.13 100.82,214.72 100.12,216.31 99.80,218.00 98.94,219.58 97.16,220.36 96.64,222.24 94.99,223.13 94.00,224.60 92.68,225.48 92.11,227.11 90.52,227.72 89.69,229.09 88.45,230.05 87.40,231.20 85.85,232.03 84.20,232.40 82.52,232.68 80.80,232.80 79.35,231.63 77.41,231.45 75.90,230.40 74.39,228.97 72.60,227.90 71.00,225.40 69.35,225.01 67.70,225.40 66.47,226.51 66.02,228.15 65.00,229.40 63.89,230.66 62.58,231.72 61.40,232.90 60.33,234.59 59.70,236.50 58.63,238.47 57.00,240.00 55.69,240.87 54.49,241.87 53.50,243.10 50.80,243.10 49.20,241.91 47.30,241.30 45.55,241.72 43.80,241.30 42.00,242.70 40.55,243.58 39.93,245.29 38.50,246.20 36.80,246.98 35.00,247.50 34.01,249.00 33.20,250.60 33.20,253.20 31.40,253.08 29.70,253.70 28.17,253.54 26.77,252.73 25.20,252.80 24.84,251.24 24.40,249.70 21.70,248.40 20.40,247.10 18.20,248.40 16.70,249.01 15.10,249.30"/>
<ellipse cx="68.6" cy="142.2" rx="0.9" ry="1.5" transform="rotate(20 68.6 142.2)" fill="#111"/>
<ellipse cx="98.8" cy="145.4" rx="1.5" ry="2.1" transform="rotate(35 98.8 145.4)" fill="none" stroke="#111" stroke-width="1"/>
<circle cx="148.2" cy="137" r="1" fill="none" stroke="#111" stroke-width="0.8"/>
<ellipse cx="64" cy="224.2" rx="14" ry="7.6" transform="rotate(44 64 224.2)" fill="none" stroke="#e33" stroke-width="1.3"/>
<circle cx="59.1" cy="221.3" r="1.2" fill="none" stroke="#111" stroke-width="0.8"/>
<text transform="translate(22.00,187.80) scale(1,1.1)" font-size="13.3" fill="#222" text-anchor="start">Man O’</text>
<text transform="translate(22.00,204.20) scale(1,1.1)" font-size="13.3" fill="#222" text-anchor="start">War Bay</text>
<g clip-path="url(#photoclip)">
<rect x="13.5" y="281.5" width="135.7" height="119.5" fill="#5e5644"/>
<ellipse cx="80" cy="286" rx="80" ry="8" fill="#3e5446" filter="url(#bl2)"/>
<ellipse cx="50" cy="285" rx="12" ry="3" fill="#5a7660" filter="url(#bl1)"/>
<ellipse cx="95" cy="287" rx="14" ry="3" fill="#5a7662" filter="url(#bl1)"/>
<ellipse cx="130" cy="287" rx="12" ry="4" fill="#52705a" filter="url(#bl1)"/>
<ellipse cx="75" cy="284" rx="6" ry="2" fill="#354a40" filter="url(#bl1)"/>
<ellipse cx="112" cy="284" rx="6" ry="2" fill="#354a40" filter="url(#bl1)"/>
<ellipse cx="52" cy="297" rx="14" ry="9" fill="#6c6c4c" filter="url(#bl2)"/>
<ellipse cx="86" cy="294" rx="22" ry="6" fill="#66745a" filter="url(#bl2)"/>
<ellipse cx="128" cy="300" rx="22" ry="13" fill="#5e6c50" filter="url(#bl2)"/>
<ellipse cx="113" cy="302" rx="8" ry="4" fill="#2a3428" filter="url(#bl1)"/>
<ellipse cx="140" cy="313" rx="9" ry="5" fill="#2a3226" filter="url(#bl1)"/>
<ellipse cx="80" cy="296" rx="5" ry="2" fill="#3e4c3e" filter="url(#bl1)"/>
<ellipse cx="30" cy="296" rx="17" ry="6" fill="#5e4838" filter="url(#bl2)"/>
<ellipse cx="28" cy="307" rx="14" ry="9" fill="#1e1b18" filter="url(#bl2)"/>
<ellipse cx="36" cy="303" rx="2" ry="2" fill="#8a8070" filter="url(#bl1)"/>
<ellipse cx="135" cy="328" rx="15" ry="13" fill="#686246" filter="url(#bl2)"/>
<ellipse cx="130" cy="336" rx="10" ry="5" fill="#2a2822" filter="url(#bl2)"/>
<ellipse cx="30" cy="328" rx="18" ry="13" fill="#605840" filter="url(#bl2)"/>
<ellipse cx="21" cy="325" rx="8" ry="4" fill="#2a2a22" filter="url(#bl1)"/>
<ellipse cx="34" cy="334" rx="13" ry="4" fill="#302c24" filter="url(#bl1)"/>
<ellipse cx="88" cy="350" rx="36" ry="8" fill="#2a2620" filter="url(#bl2)"/>
<ellipse cx="114" cy="344" rx="16" ry="12" fill="#221f1a" filter="url(#bl2)"/>
<ellipse cx="40" cy="359" rx="28" ry="15" fill="#807258" filter="url(#bl2)"/>
<ellipse cx="30" cy="352" rx="10" ry="4" fill="#958868" filter="url(#bl2)"/>
<ellipse cx="20" cy="375" rx="7" ry="4" fill="#3a3428" filter="url(#bl1)"/>
<ellipse cx="25" cy="392" rx="14" ry="8" fill="#d2cabc" filter="url(#bl1)"/>
<ellipse cx="50" cy="392" rx="16" ry="7" fill="#a89878" filter="url(#bl2)"/>
<ellipse cx="87" cy="364" rx="14" ry="7" fill="#3a3a30" filter="url(#bl2)"/>
<ellipse cx="80" cy="361" rx="5" ry="2" fill="#7a7a70" filter="url(#bl1)"/>
<ellipse cx="86" cy="386" rx="16" ry="12" fill="#7a6a50" filter="url(#bl2)"/>
<ellipse cx="128" cy="378" rx="24" ry="23" fill="#6c5c48" filter="url(#bl2)"/>
<ellipse cx="122" cy="366" rx="10" ry="6" fill="#827866" filter="url(#bl2)"/>
<ellipse cx="138" cy="388" rx="9" ry="8" fill="#7a6a56" filter="url(#bl2)"/>
<ellipse cx="103" cy="382" rx="6" ry="10" fill="#3a3228" filter="url(#bl2)"/>
<ellipse cx="137" cy="346" rx="12" ry="7" fill="#8a8070" filter="url(#bl2)"/>
<ellipse cx="140" cy="399" rx="10" ry="2" fill="#b0a088" filter="url(#bl1)"/>
<path d="M48.4,327 C48.5,318 52,311 57,308 C63,304 72,301.5 86,300.8 C100,301 110,304 115,309.5 C119,314 121,320 121,329 C120.5,338 118,348 112,354 C100,357.5 80,357 62,353 C53,350 48.5,340 48.4,327 Z" fill="url(#boulder)" filter="url(#bl05)"/>
<ellipse cx="108" cy="343" rx="15" ry="13" fill="#2e2820" opacity="0.85" filter="url(#bl2)"/>
<path d="M95,310 L99,314 L101,320 L103,324" stroke="#4a3a2c" stroke-width="1.2" fill="none"/>
<path d="M98,311 L103,311" stroke="#5a4030" stroke-width="1" fill="none"/>
<rect x="13.5" y="281.5" width="135.7" height="119.5" filter="url(#noise)" style="mix-blend-mode:overlay" opacity="0.38"/>
<g filter="url(#bl05)">
<polygon points="65.1,382.9 73.2,377.9 85.3,380.6 81.7,384.8" fill="#f0ece0"/>
<polygon points="65.1,382.9 73.2,377.9 76,378.5 68.5,383.3" fill="#d83030"/>
<polygon points="76.5,379.6 85.3,380.6 83.5,382.6 75,381.8" fill="#e8d050"/>
<polygon points="65.1,382.9 81.7,384.8 79.1,396.7 66.3,394.7" fill="#eeeae4"/>
<polygon points="66,383.4 71.5,383.8 71.5,386.3 66,386" fill="#30a050"/>
<polygon points="70,385.9 72.5,386.1 72.5,388 70,387.8" fill="#d03030"/>
<polygon points="65.8,389 80.6,390.4 80.4,392 65.9,390.8" fill="#202038"/>
<polygon points="66.1,391.8 74.5,392.5 74.5,394.6 66.2,394" fill="#e8c040"/>
<polygon points="74.5,392.3 80.2,392.8 79.6,395.8 74.5,395.2" fill="#3060c8"/>
<polygon points="66.2,394.2 79.6,395.5 79.1,396.9 66.3,395.8" fill="#d83030"/>
<polygon points="81.7,384.8 85.3,380.6 85.3,391.8 79.1,396.7" fill="#ece4d4"/>
<polygon points="81.9,384.6 85.3,380.6 85.3,383.4 81.8,387" fill="#e8d070"/>
<polygon points="83,385.2 85,383.6 85,385.6 83,387.2" fill="#40a050"/>
<polygon points="80.6,390.5 85.3,387 85.3,391.8 79.1,396.7" fill="#d83030"/>
</g>
</g>
<rect x="13.5" y="281.5" width="135.7" height="119.5" fill="none" stroke="#222" stroke-width="1.5"/>
</svg></body></html>
